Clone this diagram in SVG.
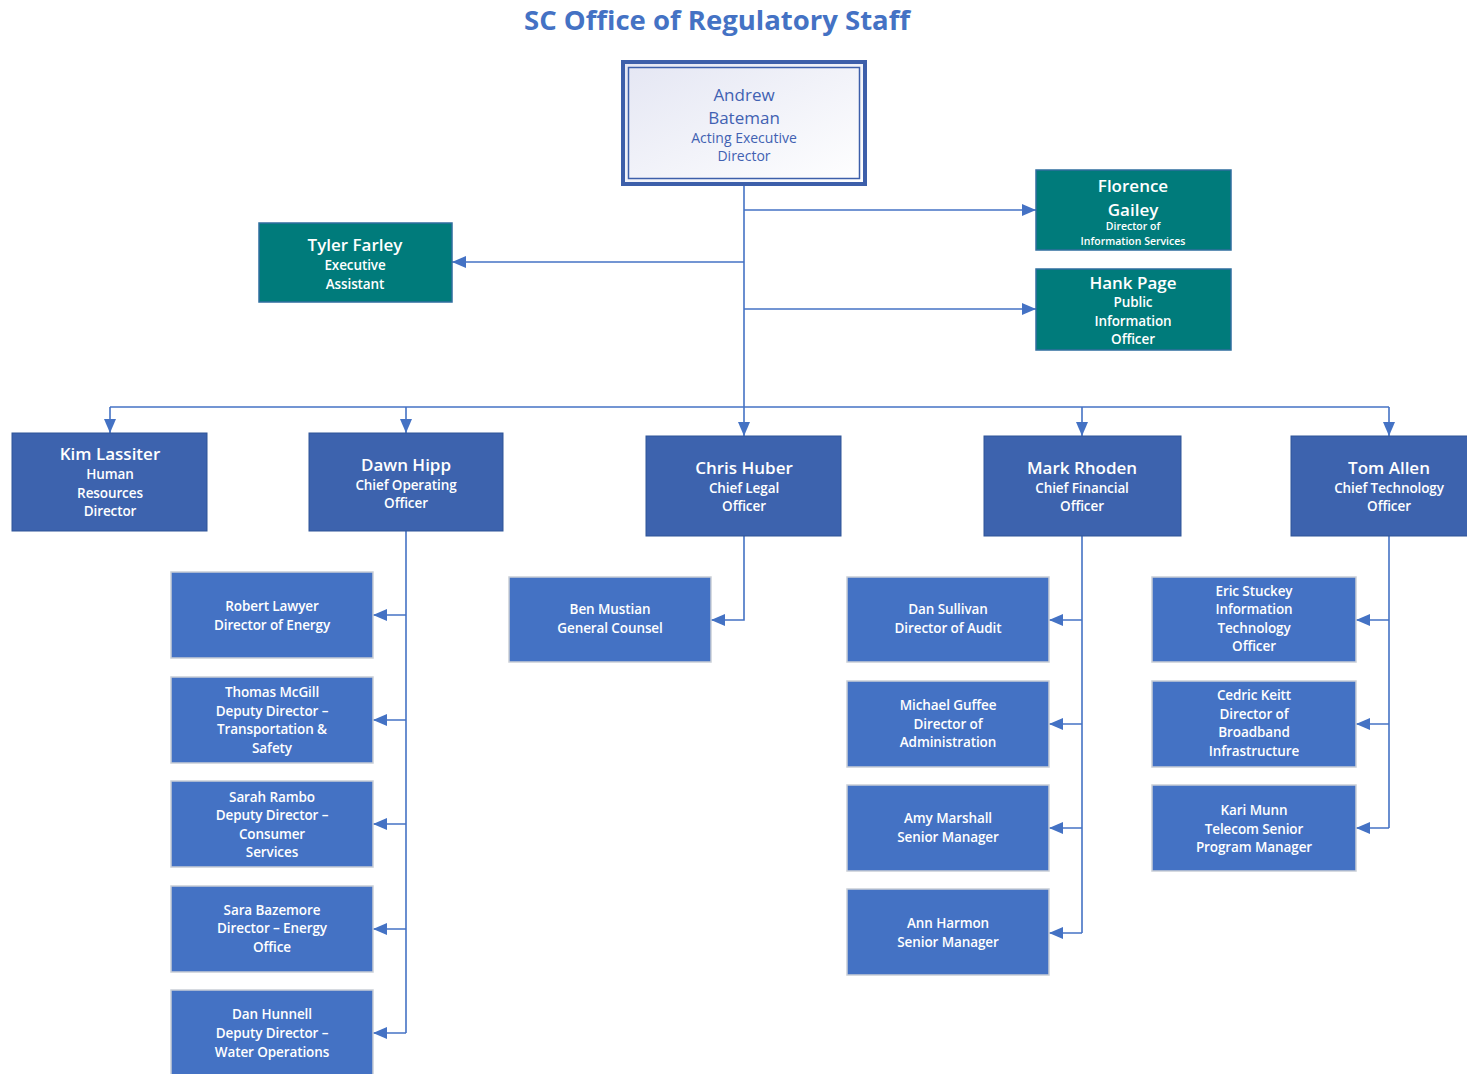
<svg xmlns="http://www.w3.org/2000/svg" width="1467" height="1074" viewBox="0 0 1467 1074">
<style>
text{font-family:"Open Sans","Liberation Sans",sans-serif;text-anchor:middle;dominant-baseline:central;fill:#fff;font-weight:600}
.title{font-size:27.5px;fill:#4472C4;font-weight:bold}
.top{fill:#4161B2;font-weight:normal}
.tn{font-size:17px}
.ts{font-size:14px}
.cs{font-size:13.5px;letter-spacing:-0.1px}
.xs{font-size:10.5px}
.teal{fill:#007B7B;stroke:#2F6E9E;stroke-width:1.5}
.head{fill:#3D63AE;stroke:#2F5597;stroke-width:1}
.child{fill:#4472C4;stroke:#C9CED6;stroke-width:1.5}
.conn{fill:none;stroke:#4472C4;stroke-width:1.6}
.arr{marker-end:url(#ah)}
</style>
<defs>
<marker id="ah" markerUnits="userSpaceOnUse" markerWidth="14" markerHeight="12" refX="14" refY="6" orient="auto">
<path d="M0,0 L14,6 L0,12 z" fill="#4472C4"/>
</marker>
<linearGradient id="tg" x1="0" y1="0" x2="1" y2="1">
<stop offset="0" stop-color="#E4E6F3"/>
<stop offset="1" stop-color="#FFFFFF"/>
</linearGradient>
</defs>
<rect width="1467" height="1074" fill="#fff"/>
<text class="title" x="717" y="19">SC Office of Regulatory Staff</text>

<g id="connectors">
<path class="conn arr" d="M744,186 V436"/>
<path class="conn arr" d="M744,210 H1036"/>
<path class="conn arr" d="M744,309 H1036"/>
<path class="conn arr" d="M744,262 H452"/>
<path class="conn" d="M110,407 H1389"/>
<path class="conn arr" d="M110,407 V433"/>
<path class="conn arr" d="M406,407 V433"/>
<path class="conn arr" d="M1082,407 V436"/>
<path class="conn arr" d="M1389,407 V436"/>
<path class="conn" d="M406,531 V1033"/>
<path class="conn arr" d="M406,615 H373"/>
<path class="conn arr" d="M406,720 H373"/>
<path class="conn arr" d="M406,824 H373"/>
<path class="conn arr" d="M406,929 H373"/>
<path class="conn arr" d="M406,1033 H373"/>
<path class="conn arr" d="M744,536 V620 H711"/>
<path class="conn" d="M1082,536 V933"/>
<path class="conn arr" d="M1082,620 H1049"/>
<path class="conn arr" d="M1082,724 H1049"/>
<path class="conn arr" d="M1082,828 H1049"/>
<path class="conn arr" d="M1082,933 H1049"/>
<path class="conn" d="M1389,536 V828"/>
<path class="conn arr" d="M1389,620 H1356"/>
<path class="conn arr" d="M1389,724 H1356"/>
<path class="conn arr" d="M1389,828 H1356"/>
</g>

<g id="andrew-bateman">
<rect x="623" y="62" width="242" height="122" fill="url(#tg)" stroke="#3D5FAA" stroke-width="4"/>
<rect x="628.5" y="67.5" width="231" height="111" fill="none" stroke="#3D5FAA" stroke-width="1.5"/>
<text class="top tn" x="744" y="94">Andrew</text>
<text class="top tn" x="744" y="117">Bateman</text>
<text class="top ts" x="744" y="137">Acting Executive</text>
<text class="top ts" x="744" y="155">Director</text>
</g>

<g id="florence-gailey">
<rect class="teal" x="1036" y="170" width="195" height="80"/>
<text class="tn" x="1133" y="185">Florence</text>
<text class="tn" x="1133" y="209">Gailey</text>
<text class="xs" x="1133" y="226">Director of</text>
<text class="xs" x="1133" y="241">Information Services</text>
</g>

<g id="hank-page">
<rect class="teal" x="1036" y="269" width="195" height="81"/>
<text class="tn" x="1133" y="282">Hank Page</text>
<text class="cs" x="1133" y="302">Public</text>
<text class="cs" x="1133" y="321">Information</text>
<text class="cs" x="1133" y="339">Officer</text>
</g>

<g id="tyler-farley">
<rect class="teal" x="259" y="223" width="193" height="79"/>
<text class="tn" x="355" y="244">Tyler Farley</text>
<text class="cs" x="355" y="265">Executive</text>
<text class="cs" x="355" y="284">Assistant</text>
</g>

<g id="kim-lassiter">
<rect class="head" x="12" y="433" width="195" height="98"/>
<text class="tn" x="110" y="453">Kim Lassiter</text>
<text class="cs" x="110" y="474">Human</text>
<text class="cs" x="110" y="493">Resources</text>
<text class="cs" x="110" y="511">Director</text>
</g>

<g id="dawn-hipp">
<rect class="head" x="309" y="433" width="194" height="98"/>
<text class="tn" x="406" y="464">Dawn Hipp</text>
<text class="cs" x="406" y="485">Chief Operating</text>
<text class="cs" x="406" y="503">Officer</text>
</g>

<g id="chris-huber">
<rect class="head" x="646" y="436" width="195" height="100"/>
<text class="tn" x="744" y="467">Chris Huber</text>
<text class="cs" x="744" y="488">Chief Legal</text>
<text class="cs" x="744" y="506">Officer</text>
</g>

<g id="mark-rhoden">
<rect class="head" x="984" y="436" width="197" height="100"/>
<text class="tn" x="1082" y="467">Mark Rhoden</text>
<text class="cs" x="1082" y="488">Chief Financial</text>
<text class="cs" x="1082" y="506">Officer</text>
</g>

<g id="tom-allen">
<rect class="head" x="1291" y="436" width="196" height="100"/>
<text class="tn" x="1389" y="467">Tom Allen</text>
<text class="cs" x="1389" y="488">Chief Technology</text>
<text class="cs" x="1389" y="506">Officer</text>
</g>

<g id="robert-lawyer">
<rect class="child" x="171" y="572" width="202" height="86"/>
<text class="cs" x="272" y="606">Robert Lawyer</text>
<text class="cs" x="272" y="625">Director of Energy</text>
</g>

<g id="thomas-mcgill">
<rect class="child" x="171" y="677" width="202" height="86"/>
<text class="cs" x="272" y="692">Thomas McGill</text>
<text class="cs" x="272" y="711">Deputy Director –</text>
<text class="cs" x="272" y="729">Transportation &amp;</text>
<text class="cs" x="272" y="748">Safety</text>
</g>

<g id="sarah-rambo">
<rect class="child" x="171" y="781" width="202" height="86"/>
<text class="cs" x="272" y="797">Sarah Rambo</text>
<text class="cs" x="272" y="815">Deputy Director –</text>
<text class="cs" x="272" y="834">Consumer</text>
<text class="cs" x="272" y="852">Services</text>
</g>

<g id="sara-bazemore">
<rect class="child" x="171" y="886" width="202" height="86"/>
<text class="cs" x="272" y="910">Sara Bazemore</text>
<text class="cs" x="272" y="928">Director – Energy</text>
<text class="cs" x="272" y="947">Office</text>
</g>

<g id="dan-hunnell">
<rect class="child" x="171" y="990" width="202" height="90"/>
<text class="cs" x="272" y="1014">Dan Hunnell</text>
<text class="cs" x="272" y="1033">Deputy Director –</text>
<text class="cs" x="272" y="1052">Water Operations</text>
</g>

<g id="ben-mustian">
<rect class="child" x="509" y="577" width="202" height="85"/>
<text class="cs" x="610" y="609">Ben Mustian</text>
<text class="cs" x="610" y="628">General Counsel</text>
</g>

<g id="dan-sullivan">
<rect class="child" x="847" y="577" width="202" height="85"/>
<text class="cs" x="948" y="609">Dan Sullivan</text>
<text class="cs" x="948" y="628">Director of Audit</text>
</g>

<g id="michael-guffee">
<rect class="child" x="847" y="681" width="202" height="86"/>
<text class="cs" x="948" y="705">Michael Guffee</text>
<text class="cs" x="948" y="724">Director of</text>
<text class="cs" x="948" y="742">Administration</text>
</g>

<g id="amy-marshall">
<rect class="child" x="847" y="785" width="202" height="86"/>
<text class="cs" x="948" y="818">Amy Marshall</text>
<text class="cs" x="948" y="837">Senior Manager</text>
</g>

<g id="ann-harmon">
<rect class="child" x="847" y="889" width="202" height="86"/>
<text class="cs" x="948" y="923">Ann Harmon</text>
<text class="cs" x="948" y="942">Senior Manager</text>
</g>

<g id="eric-stuckey">
<rect class="child" x="1152" y="577" width="204" height="85"/>
<text class="cs" x="1254" y="591">Eric Stuckey</text>
<text class="cs" x="1254" y="609">Information</text>
<text class="cs" x="1254" y="628">Technology</text>
<text class="cs" x="1254" y="646">Officer</text>
</g>

<g id="cedric-keitt">
<rect class="child" x="1152" y="681" width="204" height="86"/>
<text class="cs" x="1254" y="695">Cedric Keitt</text>
<text class="cs" x="1254" y="714">Director of</text>
<text class="cs" x="1254" y="732">Broadband</text>
<text class="cs" x="1254" y="751">Infrastructure</text>
</g>

<g id="kari-munn">
<rect class="child" x="1152" y="785" width="204" height="86"/>
<text class="cs" x="1254" y="810">Kari Munn</text>
<text class="cs" x="1254" y="829">Telecom Senior</text>
<text class="cs" x="1254" y="847">Program Manager</text>
</g>
</svg>
